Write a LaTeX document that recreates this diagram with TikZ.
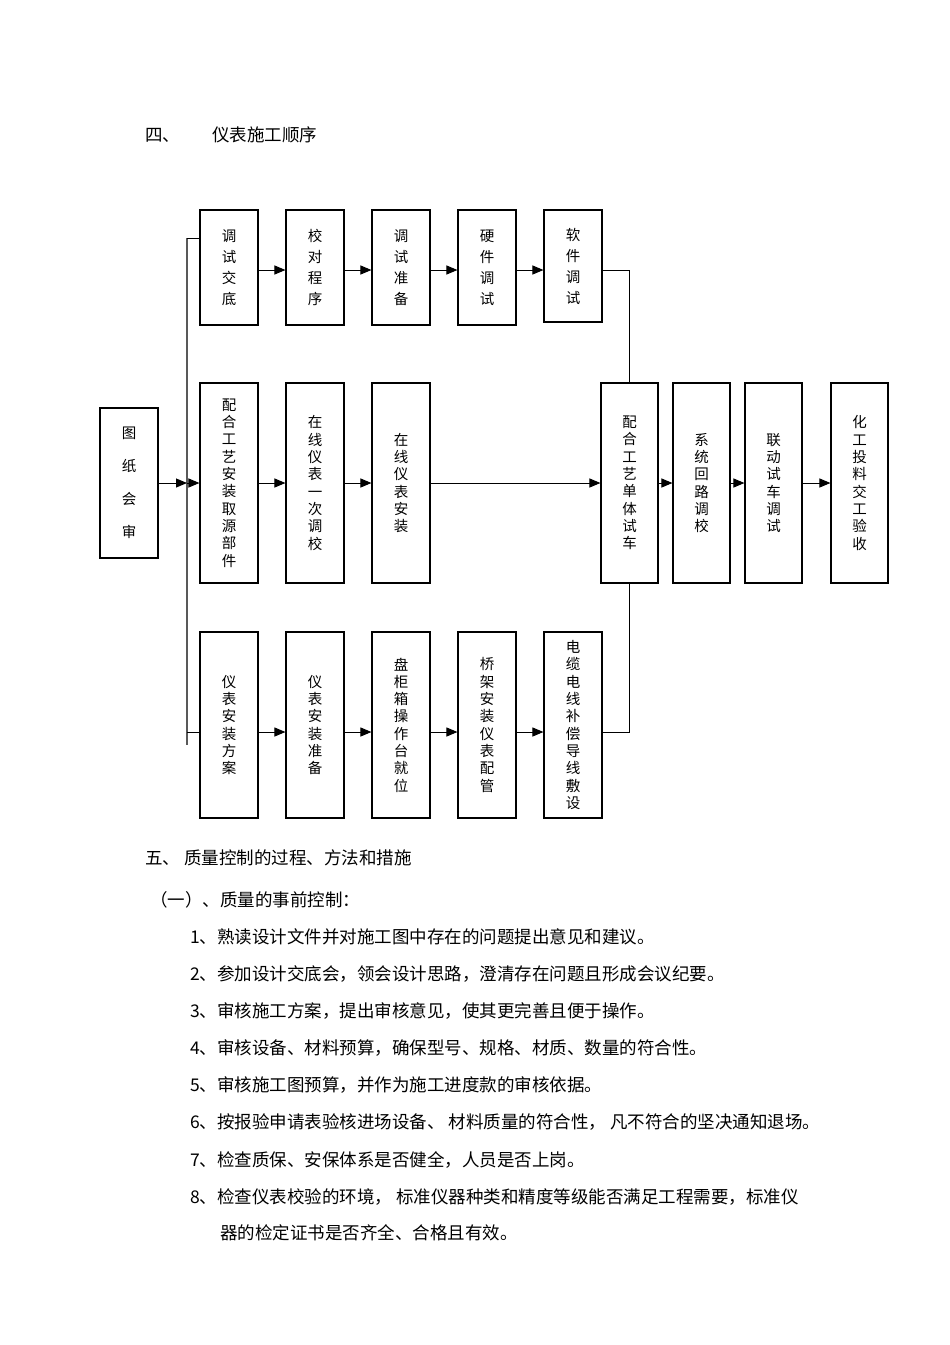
\documentclass[tikz,border=0pt]{standalone}
\usepackage{fontspec}
\setmainfont{Noto Sans CJK SC}
\usetikzlibrary{arrows.meta}
\begin{document}
\begin{tikzpicture}[x=1pt,y=-1pt,
  bx/.style={draw,line width=1.1pt,inner sep=0pt,align=center},
  ar/.style={-{Triangle[length=11pt,width=9pt]},line width=1pt},
  ln/.style={line width=1pt},
  tx/.style={anchor=west,inner sep=0pt,font=\fontsize{17.5}{20}\selectfont}]
\useasboundingbox (0,0) rectangle (950,1345);
\newcommand{\B}[7]{\node[bx,minimum width=#3-#2,minimum height=#5-#4,font=\fontsize{14.5}{#6}\selectfont] (#1) at ({(#2+#3)/2},{(#4+#5)/2}) {#7};}
\B{tz}{100}{158}{408}{558}{33}{图\\纸\\会\\审}
\B{a1}{200}{258}{210}{325}{21}{调\\试\\交\\底}
\B{a2}{286}{344}{210}{325}{21}{校\\对\\程\\序}
\B{a3}{372}{430}{210}{325}{21}{调\\试\\准\\备}
\B{a4}{458}{516}{210}{325}{21}{硬\\件\\调\\试}
\B{a5}{544}{602}{210}{322}{21}{软\\件\\调\\试}
\B{b1}{200}{258}{383}{583}{17.3}{配\\合\\工\\艺\\安\\装\\取\\源\\部\\件}
\B{b2}{286}{344}{383}{583}{17.3}{在\\线\\仪\\表\\一\\次\\调\\校}
\B{b3}{372}{430}{383}{583}{17.3}{在\\线\\仪\\表\\安\\装}
\B{c1}{200}{258}{632}{818}{17.3}{仪\\表\\安\\装\\方\\案}
\B{c2}{286}{344}{632}{818}{17.3}{仪\\表\\安\\装\\准\\备}
\B{c3}{372}{430}{632}{818}{17.3}{盘\\柜\\箱\\操\\作\\台\\就\\位}
\B{c4}{458}{516}{632}{818}{17.3}{桥\\架\\安\\装\\仪\\表\\配\\管}
\B{c5}{544}{602}{632}{818}{17.3}{电\\缆\\电\\线\\补\\偿\\导\\线\\敷\\设}
\B{d1}{601}{658}{383}{583}{17.3}{配\\合\\工\\艺\\单\\体\\试\\车}
\B{d2}{673}{730}{383}{583}{17.3}{系\\统\\回\\路\\调\\校}
\B{d3}{745}{802}{383}{583}{17.3}{联\\动\\试\\车\\调\\试}
\B{d4}{831}{888}{383}{583}{17.3}{化\\工\\投\\料\\交\\工\\验\\收}
\coordinate (bt) at (187,238);
\coordinate (bb) at (187,745);
\draw[line width=2pt,gray!70!black] (bt) -- (bb);
\draw[ln] (bt) -- (bt -| a1.west);
\draw[ln] (187,732) -- (c1.west |- 0,732);
\draw[ar] (tz.east |- 0,483) -- (187,483);
\draw[ar] (187,483) -- (b1.west |- 0,483);
\foreach \p/\q in {a1/a2,a2/a3,a3/a4,a4/a5}
  \draw[ar] (\p.east |- 0,270) -- (\q.west |- 0,270);
\draw[ar] (b1) -- (b2);
\draw[ar] (b2) -- (b3);
\draw[ar] (b3) -- (d1);
\draw[ar] (d1) -- (d2);
\draw[ar] (d2) -- (d3);
\draw[ar] (d3) -- (d4);
\foreach \p/\q in {c1/c2,c2/c3,c3/c4,c4/c5}
  \draw[ar] (\p.east |- 0,732) -- (\q.west |- 0,732);
\draw[ln] (a5.east |- 0,270) -| (d1.north);
\draw[ln] (c5.east |- 0,732) -| (d1.south);
\node[tx] (h4a) at (145,135) {四、};
\node[tx] (h4b) at (212,135) {仪表施工顺序};
\node[tx] (h5) at (145,858) {五、 质量控制的过程、方法和措施};
\node[tx] (h51) at (150,900) {（一）、质量的事前控制：};
\node[tx] (l1) at (190,937) {1、熟读设计文件并对施工图中存在的问题提出意见和建议。};
\node[tx] (l2) at (190,974) {2、参加设计交底会，领会设计思路，澄清存在问题且形成会议纪要。};
\node[tx] (l3) at (190,1011) {3、审核施工方案，提出审核意见，使其更完善且便于操作。};
\node[tx] (l4) at (190,1048) {4、审核设备、材料预算，确保型号、规格、材质、数量的符合性。};
\node[tx] (l5) at (190,1085) {5、审核施工图预算，并作为施工进度款的审核依据。};
\node[tx] (l6) at (190,1122) {6、按报验申请表验核进场设备、 材料质量的符合性， 凡不符合的坚决通知退场。};
\node[tx] (l7) at (190,1160) {7、检查质保、安保体系是否健全，人员是否上岗。};
\node[tx] (l8) at (190,1197) {8、检查仪表校验的环境，  标准仪器种类和精度等级能否满足工程需要，标准仪};
\node[tx] (l9) at (220,1233) {器的检定证书是否齐全、合格且有效。};
\end{tikzpicture}
\end{document}
